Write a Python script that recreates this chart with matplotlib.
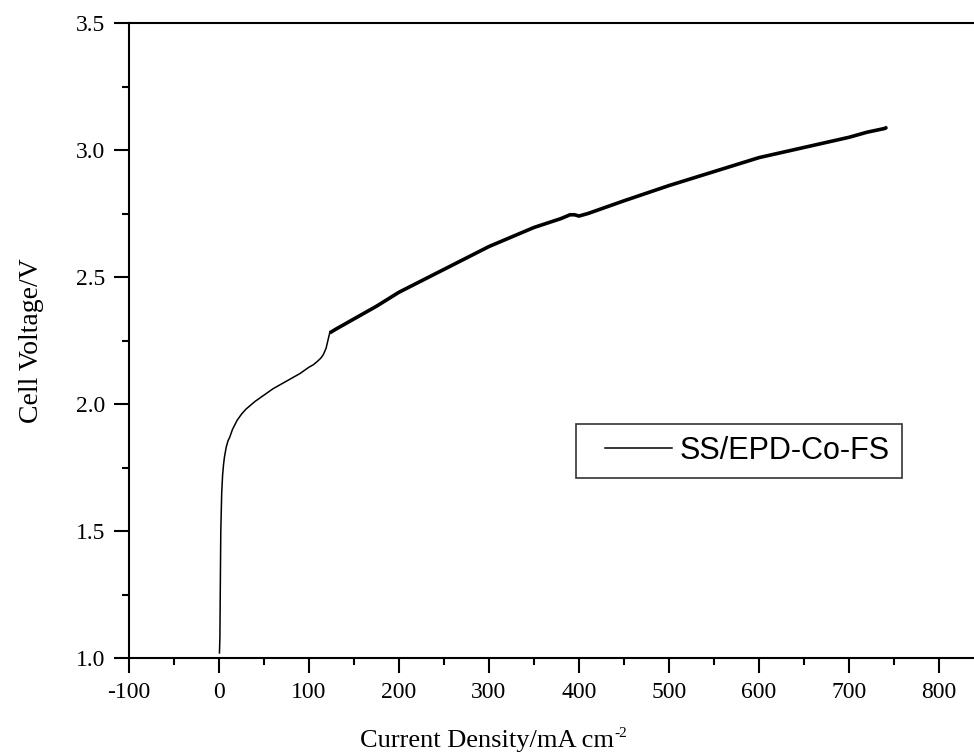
import matplotlib
matplotlib.use("Agg")
import matplotlib.pyplot as plt
from matplotlib.ticker import MultipleLocator, FormatStrFormatter
from matplotlib.legend_handler import HandlerLine2D

plt.rcParams["axes.unicode_minus"] = False

current_density = [0.5, 1, 1.5, 2, 3, 4, 5, 6, 7, 8, 10, 12, 15, 20, 25, 30, 40, 50, 60, 70,
                   80, 90, 100, 105, 110, 113, 116, 119, 121, 123, 130, 150, 175, 200, 250,
                   300, 350, 380, 390, 395, 400, 410, 450, 500, 550, 600, 650, 700, 720, 740, 742]
cell_voltage = [1.02, 1.08, 1.3, 1.5, 1.65, 1.72, 1.76, 1.79, 1.81, 1.83, 1.855, 1.87, 1.9,
                1.935, 1.96, 1.98, 2.01, 2.035, 2.06, 2.08, 2.10, 2.12, 2.145, 2.155, 2.17,
                2.18, 2.195, 2.22, 2.25, 2.28, 2.295, 2.335, 2.385, 2.44, 2.53, 2.62, 2.695,
                2.73, 2.745, 2.745, 2.74, 2.75, 2.8, 2.86, 2.915, 2.97, 3.01, 3.05, 3.07,
                3.085, 3.09]
series_label = "SS/EPD-Co-FS"

fig = plt.figure(figsize=(9.74, 7.54), dpi=100)
ax = fig.add_axes([129/974, 96/754, 845/974, 635/754])

line, = ax.plot(current_density, cell_voltage, color="black", lw=1.1, label=series_label)
n0 = next(i for i, v in enumerate(current_density) if v >= 123)
ax.plot(current_density[n0:], cell_voltage[n0:], color="black", lw=2.6,
        solid_capstyle="butt")

ax.set_xlim(-100, (974 - 219) / 0.9)
ax.set_ylim(1.0, 3.5)
ax.xaxis.set_major_locator(MultipleLocator(100))
ax.xaxis.set_minor_locator(MultipleLocator(50))
ax.yaxis.set_major_locator(MultipleLocator(0.5))
ax.yaxis.set_minor_locator(MultipleLocator(0.25))
ax.yaxis.set_major_formatter(FormatStrFormatter("%.1f"))

for s in ["left", "bottom", "top"]:
    ax.spines[s].set_linewidth(1.5)
ax.spines["right"].set_visible(False)

ax.tick_params(which="major", direction="out", length=11, width=1.5,
               labelsize=17, top=False, right=False, pad=6)
ax.tick_params(which="minor", direction="out", length=5, width=1.5, top=False, right=False)
for lab in ax.get_xticklabels() + ax.get_yticklabels():
    lab.set_family("Liberation Serif")

ax.set_xlabel("Current Density/mA cm", family="Liberation Serif", fontsize=19)
ax.set_ylabel("Cell Voltage/V", family="Liberation Serif", fontsize=20)
ax.xaxis.set_label_coords(0.424, -0.113)
ax.yaxis.set_label_coords(-0.100, 0.50)
ax.annotate("-2", xy=(1, 1), xycoords=ax.xaxis.label, xytext=(0, -3),
            textcoords="offset points", family="Liberation Serif", fontsize=11,
            ha="left", va="center")

leg = ax.legend(loc="center left", bbox_to_anchor=((576 - 129) / 845, (658 - 451) / 635),
                prop={"family": "Liberation Sans", "size": 22}, frameon=True,
                fancybox=False, edgecolor="black", handlelength=2.76, borderpad=0.38,
                handletextpad=0.26, borderaxespad=0,
                handler_map={line: HandlerLine2D(xpad=0.57)})
leg.get_frame().set_linewidth(1.2)

fig.savefig("out.png", dpi=100)
